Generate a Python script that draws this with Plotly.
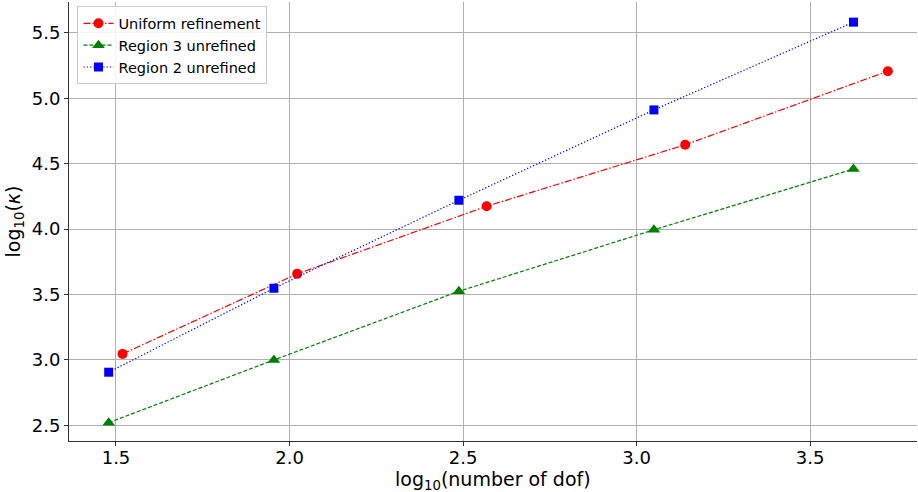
import plotly.graph_objects as go

# log10(number of dof) and log10(kappa) for each refinement strategy
uniform_x = [1.519, 2.022, 2.568, 3.140, 3.724]
uniform_y = [3.046, 3.658, 4.175, 4.645, 5.208]

region3_x = [1.479, 1.955, 2.488, 3.050, 3.625]
region3_y = [2.52, 3.00, 3.525, 3.995, 4.46]

region2_x = [1.479, 1.955, 2.488, 3.050, 3.625]
region2_y = [2.906, 3.548, 4.221, 4.912, 5.583]

x_ticks = [1.5, 2.0, 2.5, 3.0, 3.5]
y_ticks = [2.5, 3.0, 3.5, 4.0, 4.5, 5.0, 5.5]

font = "DejaVu Sans, Arial, sans-serif"

fig = go.Figure()
fig.add_trace(go.Scatter(
    x=uniform_x, y=uniform_y, name="Uniform refinement", mode="lines+markers",
    line=dict(color="red", width=1.2, dash="7px,2px,1.5px,2px"),
    marker=dict(symbol="circle", size=10, color="red"),
))
fig.add_trace(go.Scatter(
    x=region3_x, y=region3_y, name="Region 3 unrefined", mode="lines+markers",
    line=dict(color="green", width=1.2, dash="4px,2px"),
    marker=dict(symbol="triangle-up", size=11, color="green"),
))
fig.add_trace(go.Scatter(
    x=region2_x, y=region2_y, name="Region 2 unrefined", mode="lines+markers",
    line=dict(color="blue", width=1.2, dash="1.3px,2px"),
    marker=dict(symbol="square", size=9, color="blue"),
))

axis_common = dict(
    showgrid=True, gridcolor="#b0b0b0", gridwidth=1,
    showline=True, linecolor="#333333", linewidth=1,
    ticks="outside", ticklen=4, tickcolor="#333333",
    tickfont=dict(family=font, size=18, color="black"),
    zeroline=False, mirror=False, automargin=False,
)

fig.update_layout(
    width=918, height=492,
    margin=dict(l=69, r=1, t=2, b=51),
    paper_bgcolor="white", plot_bgcolor="white",
    font=dict(family=font, color="black"),
    xaxis=dict(
        range=[1.3646, 3.808], tickvals=x_ticks,
        ticktext=[f"{v:.1f}" for v in x_ticks],
        ticklabelstandoff=-4,
        **axis_common,
    ),
    yaxis=dict(
        range=[2.380, 5.737], tickvals=y_ticks,
        ticktext=[f"{v:.1f}" for v in y_ticks],
        title=dict(text="log<sub>10</sub>(<i>κ</i>)",
                   font=dict(family=font, size=19), standoff=6),
        **axis_common,
    ),
    legend=dict(
        x=0.01, y=0.99, xanchor="left", yanchor="top",
        bgcolor="rgba(255,255,255,0.85)", bordercolor="#cccccc", borderwidth=1,
        font=dict(family=font, size=14.5, color="black"),
        itemwidth=30, tracegroupgap=0,
    ),
    showlegend=True,
)

# x-axis title placed just below the tick labels
fig.add_annotation(
    text="log<sub>10</sub>(number of dof)",
    xref="paper", yref="paper", x=0.5, y=-0.089,
    xanchor="center", yanchor="middle", showarrow=False, borderpad=0,
    font=dict(family=font, size=19, color="black"),
)

fig.write_html("out.html")
